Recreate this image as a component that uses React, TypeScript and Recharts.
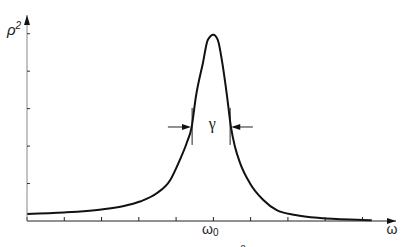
import { LineChart, Line, XAxis, YAxis, ReferenceLine, ReferenceDot } from "recharts"

// frequency (tick units) and response values
const omega = [0, 1, 2, 2.6, 3.03, 3.48, 3.84, 4.1, 4.28, 4.42, 4.53, 4.72, 4.85, 5.0, 5.12, 5.24, 5.37, 5.47, 5.58, 5.72, 5.98, 6.34, 6.7, 7.2, 7.86, 9.0, 9.25]
const rho2 = [0.19, 0.23, 0.31, 0.4, 0.52, 0.74, 1.09, 1.63, 2.07, 2.52, 3.31, 4.22, 4.83, 4.97, 4.83, 4.22, 3.31, 2.52, 1.98, 1.54, 1.01, 0.56, 0.29, 0.16, 0.08, 0.03, 0.02]

const xTicks = [0, 1, 2, 3, 4, 5, 6, 7, 8, 9]
const yTicks = [1, 2, 3, 4, 5]
const omega0 = 5

// gamma marker: half-height position and the two half-width crossings
const gammaLeft = 4.43
const gammaRight = 5.45
const gammaY = 2.51
const gammaLow = 2.03
const gammaHigh = 3.02

const data = omega.map((w, i) => ({ w, p: rho2[i] }))

const sans = "'Liberation Sans', Arial, sans-serif"

const XTick = (props: any) => {
  const { x, y, payload } = props
  if (payload.value !== omega0) return null
  return (
    <text x={x - 3} y={y} textAnchor="middle" fontFamily={sans} fontSize={14} fill="#222">
      ω<tspan fontSize={10} dy={2}>0</tspan>
    </text>
  )
}

const arrowRight = (p: any) => (
  <polygon points={`${p.cx},${p.cy} ${p.cx - 9},${p.cy - 3} ${p.cx - 9},${p.cy + 3}`} fill="#111" />
)
const arrowLeft = (p: any) => (
  <polygon points={`${p.cx},${p.cy} ${p.cx + 9},${p.cy - 3} ${p.cx + 9},${p.cy + 3}`} fill="#111" />
)
const arrowUp = (p: any) => (
  <polygon points={`${p.cx},${p.cy} ${p.cx - 3},${p.cy + 10} ${p.cx + 3},${p.cy + 10}`} fill="#111" />
)

export default function App() {
  return (
    <div style={{ position: "fixed", left: 0, top: 0, background: "#fff" }}>
      <LineChart width={412} height={247} data={data} margin={{ top: 15, right: 16, bottom: 6, left: 26 }}>
        <XAxis
          dataKey="w"
          type="number"
          domain={[0, 9.9]}
          ticks={xTicks}
          interval={0}
          height={20}
          stroke="#222"
          tickSize={-4}
          tickMargin={17}
          tick={<XTick />}
        />
        <YAxis
          type="number"
          domain={[0, 5.5]}
          ticks={yTicks}
          interval={0}
          width={1}
          stroke="#888"
          tickSize={-3}
          tickFormatter={() => ""}
          tickLine={{ stroke: "#333" }}
        />
        <ReferenceDot x={9.9} y={0} ifOverflow="visible" shape={arrowRight} />
        <ReferenceDot x={0} y={5.5} ifOverflow="visible" shape={arrowUp} />
        <ReferenceDot
          x={0}
          y={5}
          ifOverflow="visible"
          shape={(p: any) => (
            <text x={p.cx - 20} y={p.cy + 1} fontFamily={sans} fontStyle="italic" fontSize={15} fill="#222">
              ρ<tspan fontSize={10} dy={-6}>2</tspan>
            </text>
          )}
        />
        <ReferenceDot
          x={9.9}
          y={0}
          ifOverflow="visible"
          shape={(p: any) => (
            <text x={p.cx - 4} y={p.cy + 13} textAnchor="middle" fontFamily={sans} fontSize={14} fill="#222">
              ω
            </text>
          )}
        />
        <ReferenceDot
          x={omega0}
          y={0}
          ifOverflow="visible"
          shape={(p: any) => (
            <text x={p.cx + 27} y={p.cy + 32} fontFamily={sans} fontSize={10} fill="#444">
              2
            </text>
          )}
        />
        <ReferenceLine segment={[{ x: gammaLeft, y: gammaLow }, { x: gammaLeft, y: gammaHigh }]} stroke="#222" ifOverflow="visible" />
        <ReferenceLine segment={[{ x: gammaRight, y: gammaLow }, { x: gammaRight, y: gammaHigh }]} stroke="#222" ifOverflow="visible" />
        <ReferenceLine segment={[{ x: 3.78, y: gammaY }, { x: gammaLeft - 0.1, y: gammaY }]} stroke="#222" ifOverflow="visible" />
        <ReferenceLine segment={[{ x: gammaRight + 0.1, y: gammaY }, { x: 6.06, y: gammaY }]} stroke="#222" ifOverflow="visible" />
        <ReferenceDot x={gammaLeft - 0.03} y={gammaY} ifOverflow="visible" shape={arrowRight} />
        <ReferenceDot x={gammaRight + 0.03} y={gammaY} ifOverflow="visible" shape={arrowLeft} />
        <ReferenceDot
          x={omega0}
          y={gammaY}
          ifOverflow="visible"
          shape={(p: any) => (
            <text x={p.cx - 1} y={p.cy + 2} textAnchor="middle" fontFamily="'Liberation Serif', serif" fontSize={16} fill="#222">
              γ
            </text>
          )}
        />
        <Line
          type="monotone"
          dataKey="p"
          stroke="#111"
          strokeWidth={2}
          dot={false}
          isAnimationActive={false}
        />
      </LineChart>
    </div>
  )
}
